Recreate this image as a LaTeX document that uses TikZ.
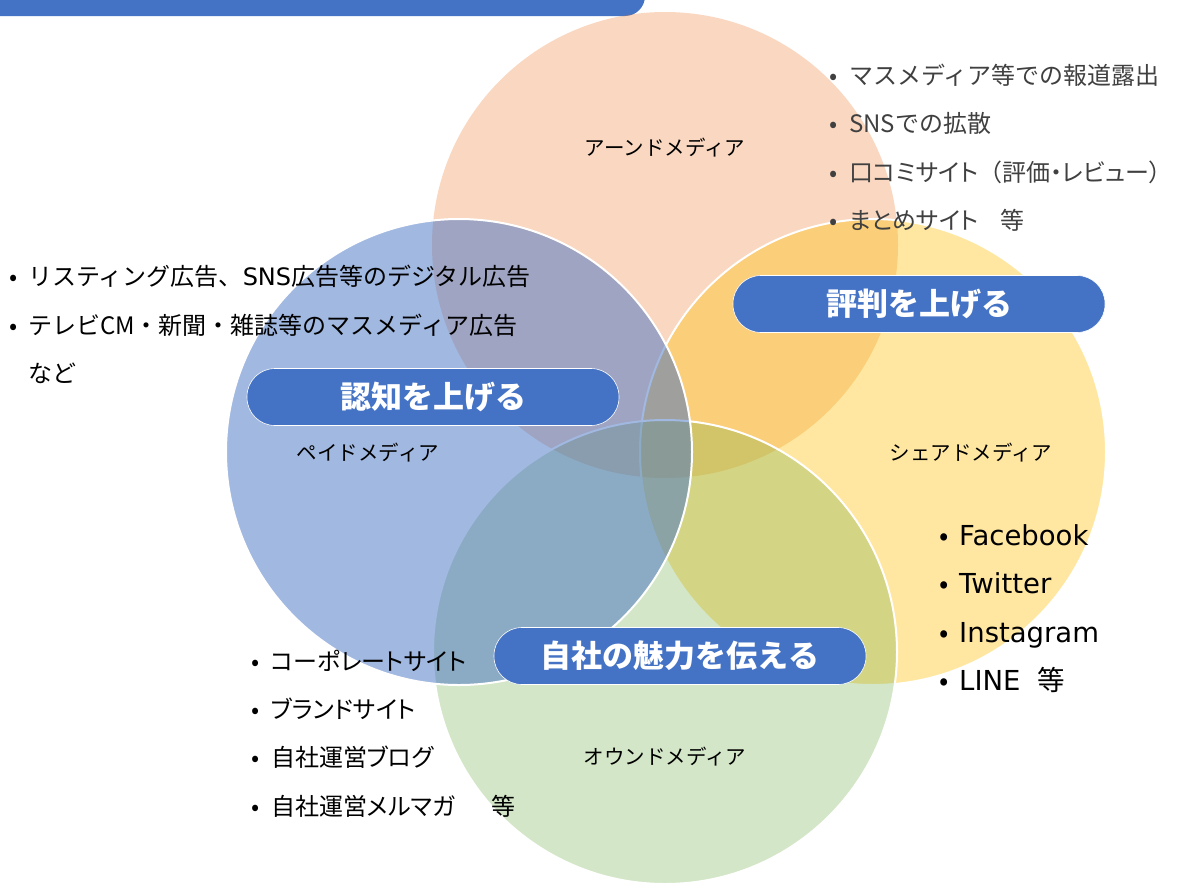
\documentclass[tikz,border=0pt]{standalone}
\usepackage{fontspec}
\setmainfont{Noto Sans CJK JP}
\newfontfamily\lat{DejaVu Sans}
\newfontfamily\pal[RawFeature=+palt]{Noto Sans CJK JP}
\definecolor{accblue}{HTML}{4472C4}
\definecolor{accorange}{HTML}{ED7D31}
\definecolor{accyellow}{HTML}{FFC000}
\definecolor{accgreen}{HTML}{70AD47}
\definecolor{graytext}{HTML}{404040}
\tikzset{
  vennline/.style={draw=white, line width=2pt},
  pill/.style={rectangle, rounded corners=28pt, minimum width=372pt, minimum height=57pt,
    fill=accblue, draw=white, line width=0.6pt, text=white, inner sep=0pt,
    font=\bfseries\fontsize{31}{31}\selectfont},
  media/.style={inner sep=0pt, text=black, font=\fontsize{20.5}{24}\selectfont},
  listitem/.style={anchor=base west, inner sep=0pt, text=black, font=\fontsize{24}{28}\selectfont},
  latitem/.style={anchor=base west, inner sep=0pt, text=black, font=\fontsize{27.5}{32}\selectfont},
}
\newcommand{\bul}[1]{\makebox[0pt][c]{•}\hspace{#1pt}}
\begin{document}
\begin{tikzpicture}[x=1pt,y=-1pt]
\useasboundingbox (0,0) rectangle (1179,887);
\fill[white] (0,0) rectangle (1179,887);
% top banner
\fill[accblue, rounded corners=20pt] (-30,-40) rectangle (645,16);
% circles
\fill[accorange, fill opacity=0.3] (665,245) circle[radius=233pt];
\path[vennline, fill=accyellow, fill opacity=0.37] (873,452) circle[radius=233pt];
\path[vennline, fill=accgreen, fill opacity=0.3] (665,652) circle[radius=232pt];
\path[vennline, fill=accblue, fill opacity=0.5] (459,452) circle[radius=233pt];
% media labels
\node[media] (earned) at (665,148) {アーンドメディア};
\node[media] (paid) at (368,453) {ペイドメディア};
\node[media] (shared) at (971,453) {シェアドメディア};
\node[media] (owned) at (665,757) {オウンドメディア};
% pills
\node[pill] (hyoban) at (919,304) {評判を上げる};
\node[pill] (ninchi) at (433,397) {認知を上げる};
\node[pill] (miryoku) at (680,656) {自社の魅力を伝える};
% top-right list
\node[listitem, text=graytext] (e1) at (833,84) {\bul{16}マスメディア等での報道露出};
\node[listitem, text=graytext] (e2) at (833,132.5) {\bul{16}SNSでの拡散};
\node[listitem, text=graytext] (e3) at (833,181) {\bul{16}{\pal 口コミサイト\hspace{0.5em}（評価・レビュー）}};
\node[listitem, text=graytext] (e4) at (833,229) {\bul{16}{\pal まとめサイト}\hspace{0.9em}等};
% left list
\node[listitem] (p1) at (13,285) {\bul{15}リスティング広告、{\lat SNS}広告等のデジタル広告};
\node[listitem] (p2) at (13,334) {\bul{15}テレビCM・新聞・雑誌等のマスメディア広告};
\node[listitem] (p3) at (28,382) {など};
% bottom-left list
\node[listitem] (o1) at (255,670) {\bul{16}{\pal コーポレートサイト}};
\node[listitem] (o2) at (255,718) {\bul{16}{\pal ブランドサイト}};
\node[listitem] (o3) at (255,766) {\bul{16}自社運営{\pal ブログ}};
\node[listitem] (o4) at (255,815) {\bul{16}自社運営{\pal メルマガ}\hspace{1.5em}等};
% right list
\node[latitem] (s1) at (944,545) {\bul{15}{\lat Facebook}};
\node[latitem] (s2) at (944,593) {\bul{15}{\lat Twitter}};
\node[latitem] (s3) at (944,642) {\bul{15}{\lat Instagram}};
\node[latitem] (s4) at (944,690) {\bul{15}{\lat LINE}\hspace{0.6em}等};
\end{tikzpicture}
\end{document}
